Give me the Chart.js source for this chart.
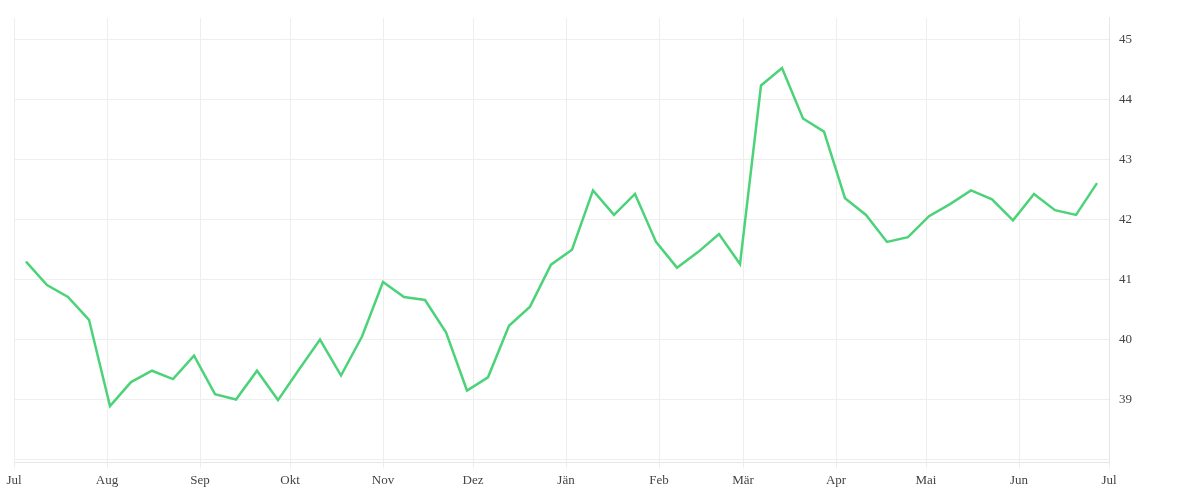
<!DOCTYPE html>
<html><head><meta charset="utf-8">
<script src="https://cdn.jsdelivr.net/npm/chart.js@4"></script>
<style>html,body{margin:0;background:#fff}#w{width:1200px;height:500px}</style>
</head><body><div id="w"><canvas id="c"></canvas></div>
<script>
const values=[41.30,40.91,40.71,40.33,38.89,39.29,39.48,39.34,39.73,39.09,39.00,39.48,38.99,39.50,40.00,39.40,40.05,40.96,40.71,40.66,40.12,39.15,39.37,40.23,40.55,41.25,41.50,42.49,42.08,42.43,41.63,41.20,41.46,41.76,41.26,44.24,44.53,43.69,43.47,42.36,42.08,41.63,41.71,42.06,42.26,42.49,42.34,41.99,42.43,42.16,42.08,42.61];
const monthDays=[0,31,62,92,123,153,184,215,243,274,304,335,365];
const monthLabels=["Jul","Aug","Sep","Okt","Nov","Dez","Jän","Feb","Mär","Apr","Mai","Jun","Jul"];
const yTicks=[38,39,40,41,42,43,44,45];
const pts=values.map((v,i)=>({x:4+7*i,y:v}));
Chart.defaults.font.family="'Liberation Serif','DejaVu Serif',serif";
Chart.defaults.font.size=13;
Chart.defaults.color="#444";
new Chart(document.getElementById('c'),{type:'line',
data:{datasets:[{data:pts,borderColor:'#4cd37a',borderWidth:2.5,pointRadius:0,tension:0,fill:false}]},
options:{responsive:true,maintainAspectRatio:false,animation:false,
layout:{padding:{left:14,right:58,top:6,bottom:8}},
plugins:{legend:{display:false},tooltip:{enabled:false}},
scales:{
x:{type:'linear',min:0,max:365,
 afterBuildTicks:s=>{s.ticks=monthDays.map(v=>({value:v}));},
 ticks:{autoSkip:false,maxRotation:0,padding:4,callback:(v)=>monthLabels[monthDays.indexOf(v)]},
 grid:{color:'#eeeeee',tickLength:6},border:{color:'#e6e6e6'}},
y:{position:'right',min:37.95,max:45.37,
 afterBuildTicks:s=>{s.ticks=yTicks.map(v=>({value:v}));},
 ticks:{padding:10,callback:v=>v===38?'':v},
 grid:{color:'#eeeeee',drawTicks:false},border:{color:'#e6e6e6'}}
}}});
</script></body></html>
